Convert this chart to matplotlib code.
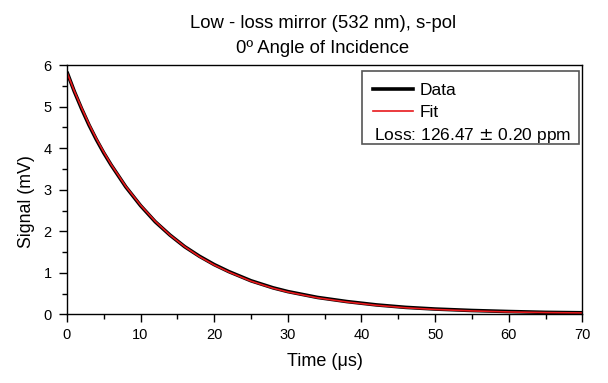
import matplotlib
matplotlib.use("Agg")
import matplotlib.pyplot as plt
from matplotlib.lines import Line2D
from matplotlib.patches import Rectangle
from matplotlib.ticker import MultipleLocator

plt.rcParams['font.family'] = ['Liberation Sans', 'DejaVu Sans']

time_us = [0, 1, 2, 3, 4, 5, 6, 8, 10, 12, 14, 16, 18, 20, 22, 25, 28, 30,
           34, 38, 42, 46, 50, 55, 60, 65, 70]
fit_mv = [5.83, 5.38, 4.97, 4.58, 4.23, 3.91, 3.61, 3.08, 2.63, 2.24, 1.91,
          1.63, 1.39, 1.19, 1.02, 0.80, 0.63, 0.54, 0.40, 0.30, 0.22, 0.16,
          0.12, 0.085, 0.06, 0.045, 0.035]
data_mv = [5.84, 5.37, 4.95, 4.56, 4.21, 3.89, 3.60, 3.07, 2.62, 2.23, 1.91,
           1.63, 1.40, 1.20, 1.03, 0.81, 0.64, 0.55, 0.41, 0.31, 0.23, 0.17,
           0.13, 0.095, 0.07, 0.05, 0.04]
title_lines = ["Low - loss mirror (532 nm), s-pol", "0º Angle of Incidence"]
loss_text = "Loss: 126.47 $\\pm$ 0.20 ppm"

fig = plt.figure(figsize=(6.08, 3.83), dpi=100)
ax = fig.add_axes([0.110, 0.179, 0.848, 0.651])

ax.plot(time_us, data_mv, color='black', lw=2.6, solid_capstyle='butt')
ax.plot(time_us, fit_mv, color='#e8191c', lw=1.2)

ax.set_xlim(0, 70)
ax.set_ylim(0, 6)
ax.xaxis.set_major_locator(MultipleLocator(10))
ax.xaxis.set_minor_locator(MultipleLocator(5))
ax.yaxis.set_major_locator(MultipleLocator(1))
ax.yaxis.set_minor_locator(MultipleLocator(0.5))
ax.tick_params(which='major', direction='out', length=6, width=1,
               labelsize=10.5, top=False, right=False)
ax.tick_params(axis='y', which='major', pad=5)
ax.tick_params(axis='x', which='major', pad=4)
ax.tick_params(which='minor', direction='out', length=3.5, width=1,
               top=False, right=False)
for s in ax.spines.values():
    s.set_linewidth(1.0)

ax.set_xlabel("Time (\u03bcs)", fontsize=13, labelpad=8)
ax.set_ylabel("Signal (mV)", fontsize=12.8)
ax.yaxis.set_label_coords(-0.062, 0.451)

fig.text(0.531, 1 - 28 / 383, title_lines[0], ha='center', va='baseline', fontsize=13.3)
fig.text(0.531, 1 - 53 / 383, title_lines[1], ha='center', va='baseline', fontsize=13.3)

# legend frame and contents
frame = Rectangle((0.572, 0.683), 0.421, 0.293, transform=ax.transAxes,
                  fill=True, facecolor='white', edgecolor='#555555', lw=1.2, zorder=5)
ax.add_patch(frame)
h_data = Line2D([], [], color='black', lw=2.6)
h_fit = Line2D([], [], color='#e8191c', lw=1.2)
leg = ax.legend([h_data, h_fit], ["Data", "Fit"], loc='upper left',
                bbox_to_anchor=(0.594, 0.928), frameon=False, fontsize=12.5,
                handlelength=2.3, handletextpad=0.35, labelspacing=0.41,
                borderaxespad=0, borderpad=0)
leg.set_zorder(6)
ax.text(0.595, 0.716, loss_text, transform=ax.transAxes, fontsize=12.5,
        ha='left', va='center', zorder=7)

fig.savefig("out.png", dpi=100)
